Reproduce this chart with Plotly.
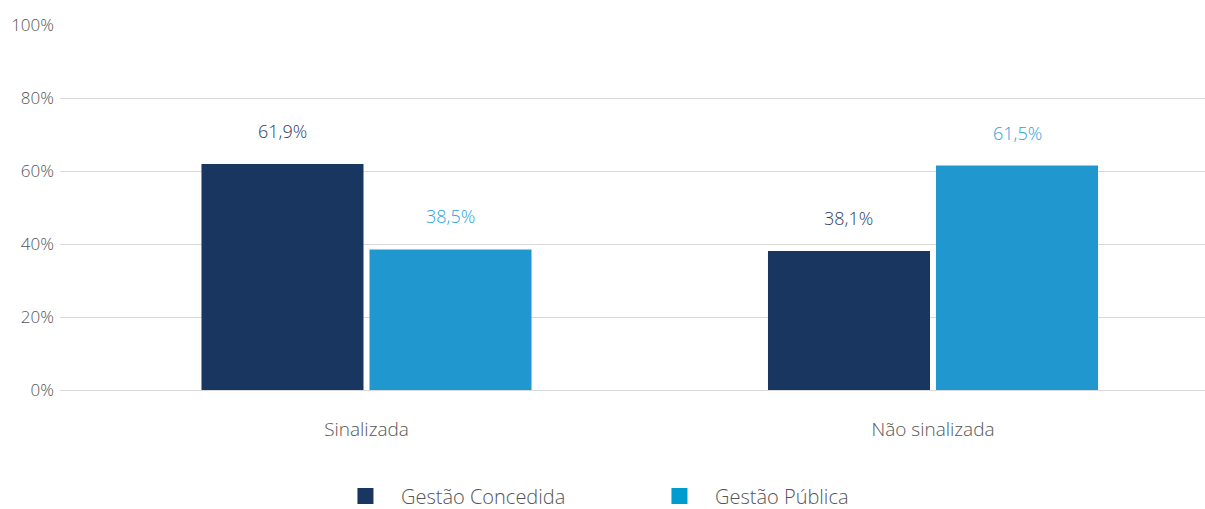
import plotly.graph_objects as go

categories = ["Sinalizada", "Não sinalizada"]
series_names = ["Gestão Concedida", "Gestão Pública"]
concedida = [61.9, 38.1]
publica = [38.5, 61.5]
y_ticks = [0, 20, 40, 60, 80, 100]

colors = ["#18365f", "#2097cf"]
legend_colors = ["#18365f", "#009ccf"]
label_colors = ["#2b3e63", "#2aa3dc"]
FONT = "Open Sans"

bar_w = 0.286
gap = 0.0106
offsets = [-bar_w - gap / 2, gap / 2]
xs = list(range(len(categories)))

fig = go.Figure()
annotations = []
for vals, name, col, lcol, lgcol, off in zip([concedida, publica], series_names, colors, label_colors, legend_colors, offsets):
    fig.add_trace(go.Bar(
        x=xs, y=vals, width=bar_w, offset=off, marker=dict(color=col, line=dict(width=0)),
        showlegend=False, name=name, hoverinfo="skip"))
    fig.add_trace(go.Scatter(
        x=[None], y=[None], mode="markers", name=name,
        marker=dict(symbol="square", size=16, color=lgcol)))
    for x, v in zip(xs, vals):
        annotations.append(dict(
            x=x + off + bar_w / 2, y=v, xref="x", yref="y", yshift=33,
            text=f"{v:.1f}%".replace(".", ","), showarrow=False,
            font=dict(size=18, color=lcol, family=FONT, weight=300)))

fig.update_layout(
    width=1205, height=509,
    margin=dict(l=60, r=0, t=25, b=119, autoexpand=False),
    paper_bgcolor="white", plot_bgcolor="white",
    font=dict(family=FONT, color="#555555", size=15, weight=300),
    annotations=annotations,
    legend=dict(orientation="h", xref="container", yref="container",
                x=0.5344, xanchor="center", y=0.0255, yanchor="middle",
                font=dict(size=20, color="#555555", family=FONT, weight=300),
                itemwidth=61, entrywidth=238, tracegroupgap=0),
    xaxis=dict(range=[(60 - 366.5) / 566.5, (1205 - 366.5) / 566.5],
               tickvals=xs, ticktext=categories, showgrid=False, zeroline=False,
               showline=False, ticks="", ticklabelstandoff=26,
               tickfont=dict(size=19, color="#555555", family=FONT, weight=300)),
    yaxis=dict(range=[0, 100], tickvals=y_ticks, ticktext=[f"{t}%" for t in y_ticks],
               showgrid=True, gridcolor="#d9d9d9", gridwidth=1,
               zeroline=True, zerolinecolor="#d9d9d9", zerolinewidth=1,
               ticks="", ticklabelstandoff=5,
               tickfont=dict(size=17, color="#555555", family=FONT, weight=300)),
)

fig.write_html("out.html", config={"displayModeBar": False},
               post_script="document.body.style.margin='0';document.body.style.overflow='hidden';")
